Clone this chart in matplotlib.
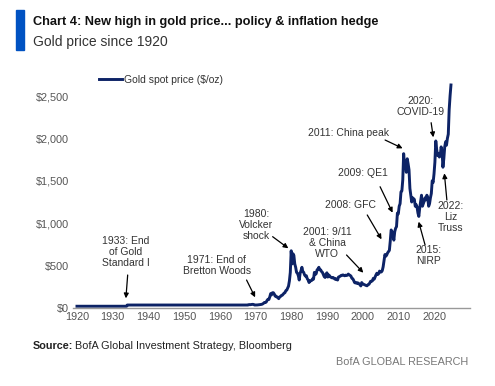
import numpy as np
import matplotlib.pyplot as plt
from matplotlib.patches import Rectangle

plt.rcParams['font.family'] = ['Liberation Sans', 'DejaVu Sans']

# gold price, $/oz: fixed-price era then quarterly from 1968
early_years = [1920, 1933.9, 1934.1, 1967.9]
early_price = [20.67, 20.67, 35.0, 35.0]

q_start = 1968
q_price = [
    38, 40, 39, 41,   42, 43, 41, 35,   35, 36, 36, 37,   38, 40, 42, 43,
    48, 55, 65, 64,   70, 90, 103, 100, 130, 170, 155, 180, 180, 165, 140, 140,
    128, 126, 110, 130, 135, 148, 150, 162, 175, 180, 205, 210, 235, 258, 320, 420,
    675, 520, 640, 620, 520, 480, 420, 410, 380, 330, 410, 440, 480, 430, 420, 390,
    375, 380, 345, 330, 300, 320, 320, 325, 345, 340, 420, 395, 405, 450, 460, 480,
    450, 450, 430, 420, 395, 370, 360, 400, 415, 365, 390, 380, 365, 360, 355, 360,
    350, 340, 345, 335, 330, 365, 370, 375, 385, 385, 390, 385, 380, 387, 383, 387,
    400, 390, 385, 375, 350, 345, 325, 300, 295, 300, 290, 295, 285, 275, 260, 300,
    285, 280, 275, 270, 265, 262, 275, 278, 295, 315, 315, 320, 350, 340, 365, 390,
    410, 395, 405, 435, 425, 425, 440, 485, 560, 630, 610, 625, 650, 665, 680, 790,
    920, 900, 870, 800, 900, 940, 960, 1120, 1110, 1200, 1230, 1370,
    1380, 1510, 1820, 1680, 1690, 1600, 1760, 1700, 1630, 1410, 1330, 1250,
    1300, 1290, 1280, 1200, 1220, 1190, 1120, 1080, 1180, 1260, 1330, 1200,
    1230, 1260, 1300, 1275, 1330, 1300, 1200, 1230, 1300, 1350, 1500, 1480,
    1580, 1720, 1970, 1870, 1800, 1820, 1780, 1800, 1900, 1850, 1660, 1760,
    1900, 1960, 1920, 2000, 2050, 2340, 2500, 2630,
]
q_years = [q_start + i / 4 for i in range(len(q_price))]

years = early_years + q_years
price = early_price + q_price

x_ticks = list(range(1920, 2021, 10))
y_ticks = [0, 500, 1000, 1500, 2000, 2500]
y_labels = ['$0', '$500', '$1,000', '$1,500', '$2,000', '$2,500']

# (text, text x, text y, arrow from, arrow to)
notes = [
    ('1933: End\nof Gold\nStandard I', 1933.7, 660, (1934.2, 389), (1933.7, 114)),
    ('1971: End of\nBretton Woods', 1959.1, 503, (1967.5, 330), (1969.9, 126)),
    ('1980:\nVolcker\nshock', 1970.1, 979, (1974.8, 841), (1979.2, 704)),
    ('2001: 9/11\n& China\nWTO', 1990.1, 770, (1995.5, 625), (2000.2, 416)),
    ('2008: GFC', 1996.5, 1215, (2001.3, 1097), (2005.3, 810)),
    ('2009: QE1', 2000.2, 1588, (2004.9, 1430), (2008.4, 1124)),
    ('2011: China peak', 1996.0, 2067, (2006.3, 1981), (2011.2, 1883)),
    ('2020:\nCOVID-19', 2016.3, 2374, (2019.2, 2185), (2019.8, 2013)),
    ('2015:\nNIRP', 2018.4, 619, (2017.5, 743), (2015.7, 1018)),
    ('2022:\nLiz\nTruss', 2024.7, 1073, (2023.6, 1274), (2022.9, 1588)),
]

navy = '#0d2366'
grey = '#555555'

fig = plt.figure(figsize=(4.95, 3.86), dpi=100)
ax = fig.add_axes([0.1483, 0.1977, 0.8006, 0.6085])

ax.plot(years, price, color=navy, lw=2.1, label='Gold spot price ($/oz)',
        solid_joinstyle='round')

ax.set_xlim(1919, 2030)
ax.set_ylim(-20, 2750)
ax.set_xticks(x_ticks)
ax.set_yticks(y_ticks)
ax.set_yticklabels(y_labels)
ax.tick_params(length=0, labelsize=7.8, colors=grey, pad=3)
for s in ['top', 'right', 'left']:
    ax.spines[s].set_visible(False)
ax.spines['bottom'].set_position(('data', 0))
ax.spines['bottom'].set_color('#999999')
ax.spines['bottom'].set_linewidth(1.0)

for txt, tx, ty, p0, p1 in notes:
    ax.text(tx, ty, txt, ha='center', va='center', fontsize=7.5,
            color='#333333', linespacing=1.1)
    ax.annotate('', xy=p1, xytext=p0,
                arrowprops=dict(arrowstyle='-|>', color='black', lw=0.9,
                                mutation_scale=7, shrinkA=0, shrinkB=0))

leg = ax.legend(loc='upper left', bbox_to_anchor=(0.04, 1.04), frameon=False,
                fontsize=7.5, handlelength=2.2, handletextpad=0.2,
                labelcolor='#333333')

# header
fig.patches.append(Rectangle((16 / 495, 1 - 50 / 386), 8 / 495, 40 / 386,
                             transform=fig.transFigure, color='#0052c2'))
fig.text(33 / 495, 1 - 22 / 386, 'Chart 4: New high in gold price... policy & inflation hedge',
         fontsize=9.2, fontweight='bold', color='#111111', va='center')
fig.text(33 / 495, 1 - 42 / 386, 'Gold price since 1920', fontsize=10,
         color='#333333', va='center')

src = fig.text(33 / 495, 1 - 346 / 386, 'Source:', fontsize=7.8, fontweight='bold',
               color='#222222', va='center')
r = fig.canvas.get_renderer()
w = src.get_window_extent(r).width
fig.text(33 / 495 + (w + 2) / 495, 1 - 346 / 386, 'BofA Global Investment Strategy, Bloomberg',
         fontsize=7.8, color='#222222', va='center')
fig.text(468 / 495, 1 - 362 / 386, 'BofA GLOBAL RESEARCH', fontsize=7.8,
         color='#777777', va='center', ha='right')

fig.savefig('out.png', dpi=100)
